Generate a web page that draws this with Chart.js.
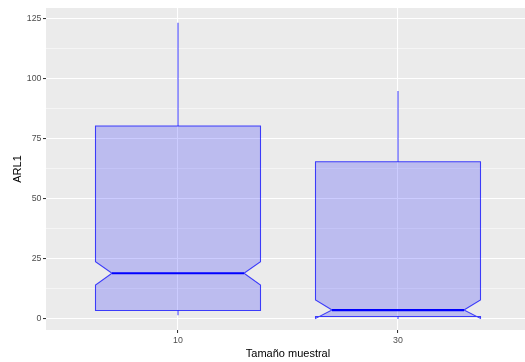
<!DOCTYPE html>
<html>
<head>
<meta charset="utf-8">
<script src="https://cdn.jsdelivr.net/npm/chart.js@4/dist/chart.umd.min.js"></script>
<style>
  html, body { margin: 0; padding: 0; background: #ffffff; overflow: hidden; }
  #wrap { width: 525px; height: 362px; overflow: hidden; }
  canvas { display: block; }
</style>
</head>
<body>
<div id="wrap"><canvas id="c" width="530" height="362"></canvas></div>
<script>
// ---- data ----
const categories   = ['10', '30'];
const lowerWhisker = [1.5, 0.0];
const q1           = [3.5, 1.0];
const median       = [19.0, 3.7];
const q3           = [80.2, 65.4];
const upperWhisker = [123.2, 94.8];
const notchLower   = [14.1, 0.2];
const notchUpper   = [23.8, 7.9];
const yTicks       = [0, 25, 50, 75, 100, 125];
const yMinorTicks  = [12.5, 37.5, 62.5, 87.5, 112.5];

// ---- styles ----
const BOX_WIDTH = 0.75;      // in category units
const NOTCH_WIDTH = 0.8;     // fraction of box width at the notch
const FILL = 'rgba(0,0,255,0.2)';
const LINE = 'rgba(0,0,255,0.72)';
const MEDIAN_LINE = '#0000ff';

const panelBg = {
  id: 'panelBg',
  beforeDraw(chart) {
    const { ctx, chartArea: a } = chart;
    ctx.save();
    ctx.fillStyle = '#EBEBEB';
    ctx.fillRect(a.left, a.top, a.right - a.left, a.bottom - a.top);
    ctx.restore();
  }
};

const notchedBoxes = {
  id: 'notchedBoxes',
  afterDatasetsDraw(chart) {
    const { ctx } = chart;
    const xs = chart.scales.x, ys = chart.scales.y;
    const a = chart.chartArea;
    ctx.save();
    ctx.beginPath();
    ctx.rect(a.left, a.top, a.right - a.left, a.bottom - a.top);
    ctx.clip();
    categories.forEach((cat, i) => {
      const xmin = xs.getPixelForValue(i - BOX_WIDTH / 2);
      const xmax = xs.getPixelForValue(i + BOX_WIDTH / 2);
      const xc = xs.getPixelForValue(i);
      const indent = (1 - NOTCH_WIDTH) * (xmax - xmin) / 2;
      const Y = v => ys.getPixelForValue(v);
      // whiskers
      ctx.strokeStyle = LINE;
      ctx.lineWidth = 1.07;
      ctx.beginPath();
      ctx.moveTo(xc, Y(q3[i])); ctx.lineTo(xc, Y(upperWhisker[i]));
      ctx.moveTo(xc, Y(q1[i])); ctx.lineTo(xc, Y(lowerWhisker[i]));
      ctx.stroke();
      // notched box polygon
      const px = [xmin, xmin, xmin + indent, xmin, xmin, xmax, xmax, xmax - indent, xmax, xmax];
      const py = [q3[i], notchUpper[i], median[i], notchLower[i], q1[i], q1[i], notchLower[i], median[i], notchUpper[i], q3[i]];
      ctx.beginPath();
      px.forEach((x, k) => { const y = Y(py[k]); if (k === 0) ctx.moveTo(x, y); else ctx.lineTo(x, y); });
      ctx.closePath();
      ctx.fillStyle = FILL;
      ctx.fill();
      ctx.stroke();
      // median
      ctx.strokeStyle = MEDIAN_LINE;
      ctx.lineWidth = 2.2;
      ctx.beginPath();
      ctx.moveTo(xmin + indent, Y(median[i]));
      ctx.lineTo(xmax - indent, Y(median[i]));
      ctx.stroke();
    });
    ctx.restore();
  }
};

const isMajor = v => yTicks.includes(v);

new Chart(document.getElementById('c'), {
  type: 'scatter',
  data: { datasets: [{ data: [], showLine: false }] },
  plugins: [panelBg, notchedBoxes],
  options: {
    responsive: false,
    animation: false,
    devicePixelRatio: 1,
    layout: { padding: { top: 8, right: 0, bottom: 0, left: 0 } },
    plugins: { legend: { display: false }, tooltip: { enabled: false } },
    scales: {
      x: {
        type: 'linear',
        min: -0.6,
        max: categories.length - 1 + 0.6,
        afterBuildTicks: s => { s.ticks = categories.map((c, i) => ({ value: i })); },
        afterFit: s => { s.height = 32; },
        border: { display: false },
        grid: { color: '#ffffff', lineWidth: 1.07, drawTicks: true, tickLength: 3, tickColor: '#333333', tickWidth: 1.07 },
        ticks: {
          padding: 2.5,
          color: '#4D4D4D',
          font: { family: 'Liberation Sans, Arial, sans-serif', size: 8.8 },
          callback: v => categories[v] ?? '',
          maxRotation: 0
        },
        title: {
          display: true,
          text: 'Tamaño muestral',
          color: '#000000',
          font: { family: 'Liberation Sans, Arial, sans-serif', size: 11 },
          padding: { top: 0, bottom: 1.4 }
        }
      },
      y: {
        type: 'linear',
        min: -4.6,
        max: 129.3,
        afterBuildTicks: s => {
          s.ticks = yTicks.concat(yMinorTicks).sort((a, b) => a - b).map(v => ({ value: v }));
        },
        afterFit: s => { s.width = 46; },
        border: { display: false },
        grid: {
          color: '#ffffff',
          lineWidth: c => (c.tick && isMajor(c.tick.value)) ? 1.07 : 0.53,
          drawTicks: true,
          tickLength: 3,
          tickWidth: 1.07,
          tickColor: c => (c.tick && isMajor(c.tick.value)) ? '#333333' : 'rgba(0,0,0,0)'
        },
        ticks: {
          padding: 1.5,
          color: '#4D4D4D',
          font: { family: 'Liberation Sans, Arial, sans-serif', size: 8.8 },
          callback: v => isMajor(v) ? String(v) : ''
        },
        title: {
          display: true,
          text: 'ARL1',
          color: '#000000',
          font: { family: 'Liberation Sans, Arial, sans-serif', size: 11 },
          padding: { top: 11, bottom: 0 }
        }
      }
    }
  }
});
</script>
</body>
</html>
